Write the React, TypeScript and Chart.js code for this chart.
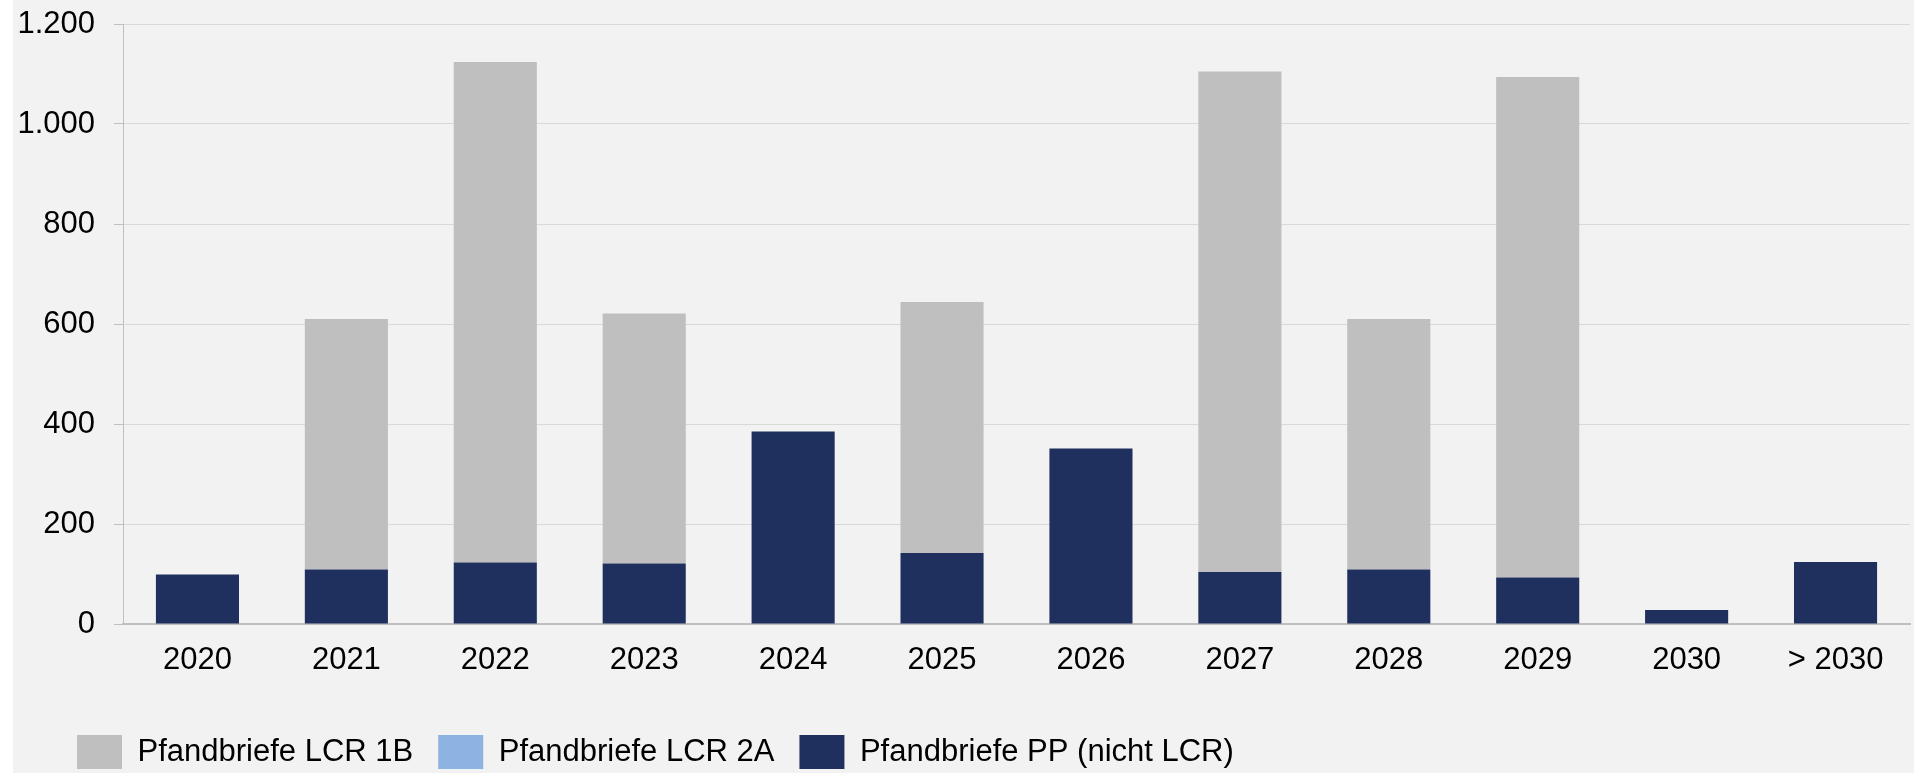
import React, { useEffect, useRef } from "react";
import { Chart, registerables } from "chart.js";

Chart.register(...registerables);

const categories = ["2020", "2021", "2022", "2023", "2024", "2025", "2026", "2027", "2028", "2029", "2030", "> 2030"];
const lcr1B = [0, 501, 1001, 500, 0, 502, 0, 1001, 501, 1001, 0, 0];
const lcr2A = [0, 0, 0, 0, 0, 0, 0, 0, 0, 0, 0, 0];
const ppNichtLcr = [99, 109, 123, 121, 385, 142, 351, 104, 109, 93, 28, 124];
const yTicks = [0, 200, 400, 600, 800, 1000, 1200];

const FONT = "'Liberation Sans', Arial, sans-serif";
const LEGEND_INDENT = 39;

function fmt(v: number): string {
  const s = String(Math.round(v));
  return s.replace(/\B(?=(\d{3})+(?!\d))/g, ".");
}

const legendIndent = {
  id: "legendIndent",
  afterLayout(chart: any) {
    if (chart.legend) {
      chart.legend.left += LEGEND_INDENT;
    }
  },
};

export default function App() {
  const ref = useRef<HTMLCanvasElement | null>(null);

  useEffect(() => {
    if (!ref.current) return;
    const chart = new Chart(ref.current, {
      type: "bar",
      data: {
        labels: categories,
        datasets: [
          { label: "Pfandbriefe PP (nicht LCR)", data: ppNichtLcr, backgroundColor: "#1F305E", borderWidth: 0 },
          { label: "Pfandbriefe LCR 2A", data: lcr2A, backgroundColor: "#8DB3E2", borderWidth: 0 },
          { label: "Pfandbriefe LCR 1B", data: lcr1B, backgroundColor: "#BFBFBF", borderWidth: 0 },
        ],
      },
      plugins: [legendIndent],
      options: {
        animation: false,
        responsive: true,
        maintainAspectRatio: false,
        layout: { padding: { left: 0, right: 4, top: 24, bottom: 0 } },
        datasets: { bar: { categoryPercentage: 1, barPercentage: 0.558 } },
        plugins: {
          tooltip: { enabled: false },
          legend: {
            position: "bottom",
            align: "start",
            reverse: true,
            labels: {
              boxWidth: 45,
              boxHeight: 34,
              padding: 25,
              color: "#000000",
              font: { family: FONT, size: 31 },
            },
          },
        },
        scales: {
          x: {
            stacked: true,
            grid: { display: false, drawTicks: false },
            border: { display: true, color: "#BFBFBF", width: 2 },
            ticks: { color: "#000000", font: { family: FONT, size: 31 }, padding: 18, maxRotation: 0, autoSkip: false },
            afterFit: (scale: any) => {
              scale.height = 86;
              scale.paddingLeft = 0;
              scale.paddingRight = 0;
            },
          },
          y: {
            stacked: true,
            min: 0,
            max: 1200,
            afterBuildTicks: (scale: any) => { scale.ticks = yTicks.map((v) => ({ value: v })); },
            grid: { color: "#D9D9D9", lineWidth: 1, tickLength: 9, tickColor: "#BFBFBF", drawTicks: true },
            border: { display: true, color: "#BFBFBF", width: 1 },
            ticks: {
              color: "#000000",
              font: { family: FONT, size: 31 },
              padding: 19,
              callback: (v: any) => fmt(Number(v)),
            },
            afterFit: (scale: any) => {
              scale.width = 110;
              scale.paddingTop = 0;
              scale.paddingBottom = 0;
            },
          },
        },
      },
    });
    return () => chart.destroy();
  }, []);

  return (
    <div style={{ position: "fixed", left: 13, top: 0, width: 1901, height: 773, overflow: "hidden", background: "#F2F2F2" }}>
      <div style={{ position: "relative", width: 1901, height: 779 }}>
        <canvas ref={ref} />
      </div>
    </div>
  );
}
